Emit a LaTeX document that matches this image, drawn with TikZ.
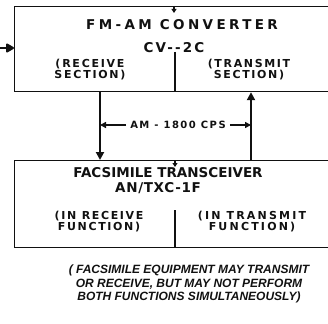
\documentclass[tikz,border=0pt]{standalone}
\usepackage{fontspec}
\usepackage{xcolor}
\usetikzlibrary{arrows.meta,positioning}
\newfontfamily\platefont{DejaVu Sans}
\newfontfamily\remarkfont{Liberation Sans}
\definecolor{ink}{HTML}{111111}
\tikzset{
  unit/.style={draw=ink,line width=1.2pt,minimum width=340pt,anchor=north west,inner sep=0pt},
  title/.style={font=\platefont\bfseries\fontsize{13.5}{14}\selectfont\addfontfeature{LetterSpace=#1},text=ink,inner sep=0pt},
  title/.default=10,
  part/.style={font=\platefont\bfseries\fontsize{11}{11}\selectfont\addfontfeature{LetterSpace=#1},text=ink,align=center,inner sep=0pt},
  part/.default=16,
  divider/.style={draw=ink,line width=1.6pt},
  feed/.style={draw=ink,line width=2.6pt,-{Triangle[length=8pt,width=8pt]}},
  lead/.style={draw=ink,line width=1.8pt,-{Triangle[length=6pt,width=6pt]}},
  tick/.style={draw=ink,line width=1.2pt,-{Triangle[length=4pt,width=5pt]}},
  note/.style={font=\remarkfont\bfseries\itshape\fontsize{12}{13.7}\selectfont,text=ink,align=center,inner sep=0pt}
}

\begin{document}
\begin{tikzpicture}[x=1pt,y=-1pt]
  \useasboundingbox (0,0) rectangle (328,323);
  \clip (0,0) rectangle (328,323);
  % converter
  \node[unit,minimum height=85pt] (conv) at (14,6) {};
  \node[title=25] (convname) at (182,25) {FM-AM CONVERTER};
  \node[title=16] (convtype) at (174,48) {CV-{}-2C};
  \node[part=16] (rxsect) at (90,69.5) {(RECEIVE\\SECTION)};
  \node[part=15] (txsect) at (249,69.5) {(TRANSMIT\\SECTION)};
  \coordinate (convsplit) at (175,52);
  \draw[divider] (convsplit) -- (convsplit |- conv.south);
  \draw[tick] (conv.north -| convtype) -- ++(0,7);
  \coordinate (feedin) at (0,48);
  \draw[draw=ink,line width=2pt,-{Triangle[length=9pt,width=10pt,round]}] (feedin) -- (feedin -| conv.west);
  % transceiver
  \node[unit,minimum height=87pt] (xcvr) at (14,160) {};
  \node[title=0] (xcvrname) at (168,173) {FACSIMILE TRANSCEIVER};
  \node[title=5] (xcvrtype) at (158,188) {AN/TXC-1F};
  \node[part=15] (rxfunc) at (99,221.5) {(IN RECEIVE\\FUNCTION)};
  \node[part=20] (txfunc) at (252,221.5) {(IN TRANSMIT\\FUNCTION)};
  \coordinate (xcvrsplit) at (175,210);
  \draw[divider] (xcvrsplit) -- (xcvrsplit |- xcvr.south);
  \draw[tick] (xcvr.north -| xcvrsplit) -- ++(0,7);
  % links
  \coordinate (rxlink) at (100,125);
  \coordinate (txlink) at (251,125);
  \node[part,font=\platefont\bfseries\fontsize{10}{11}\selectfont\addfontfeature{LetterSpace=15}] (amline) at (178,125) {AM - 1800 CPS};
  \draw[feed] (rxlink |- conv.south) -- (rxlink |- xcvr.north);
  \draw[feed] (txlink |- xcvr.north) -- (txlink |- conv.south);
  \draw[lead] ([xshift=-4pt]amline.west) -- (rxlink);
  \draw[lead] ([xshift=4pt]amline.east) -- (txlink);
  % remark
  \node[note] (remark) at (189,284) {( FACSIMILE EQUIPMENT MAY TRANSMIT\\OR RECEIVE, BUT MAY NOT PERFORM\\BOTH FUNCTIONS SIMULTANEOUSLY)};
\end{tikzpicture}
\end{document}
